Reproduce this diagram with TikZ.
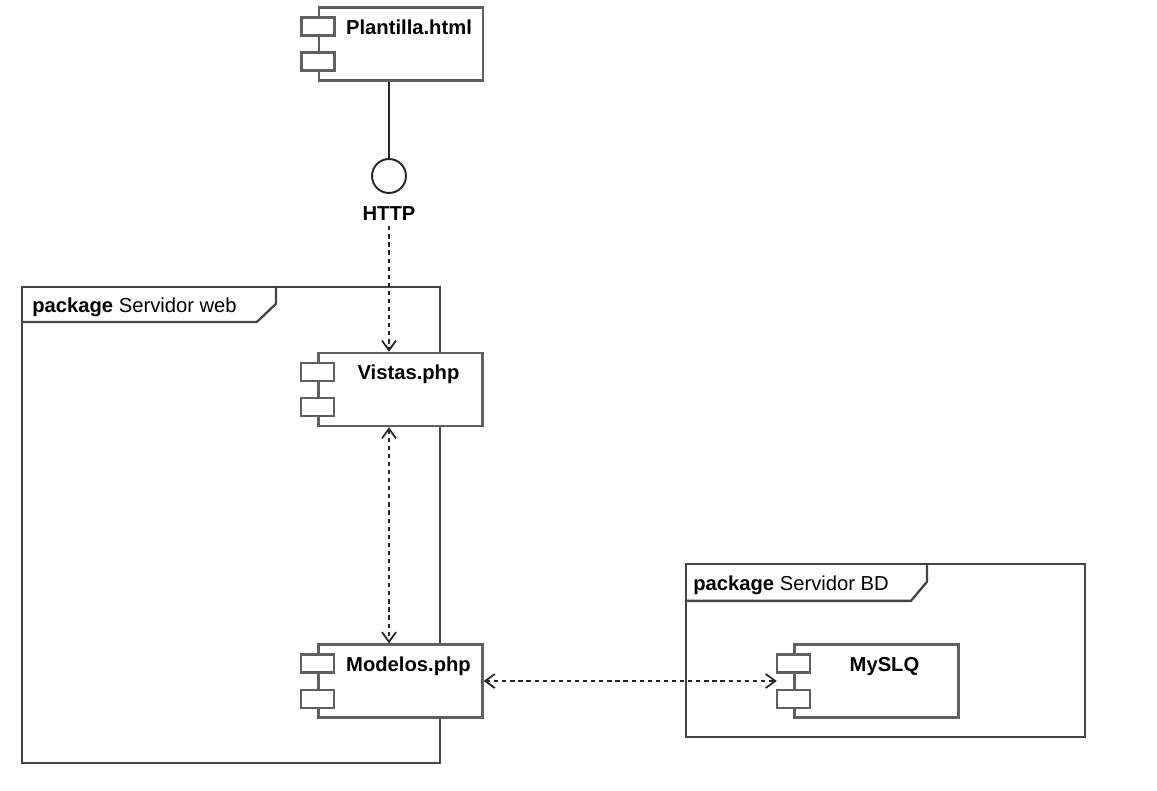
\documentclass[tikz,border=0pt]{standalone}
\usepackage{fontspec}
\setmainfont{Liberation Sans}
\usetikzlibrary{arrows.meta,positioning}

\definecolor{umlgray}{HTML}{606060}
\definecolor{umldark}{HTML}{454545}
\newcommand{\umlfont}{\fontsize{11.5}{14}\selectfont}

\tikzset{
    comp/.style={draw=umlgray, fill=white, line width=1.4pt, inner sep=0pt,
        minimum width=3.28cm, minimum height=1.46cm, label={[compname]north:#1}},
    compname/.style={anchor=base, xshift=0.16cm, yshift=-0.56cm, font=\umlfont\bfseries},
    port/.style={draw=umlgray, fill=white, line width=1.4pt, inner sep=0pt,
        minimum width=0.66cm, minimum height=0.36cm},
    pkg/.style={draw=umldark, line width=1.3pt, inner sep=0pt},
    pkgname/.style={anchor=base west, inner sep=0pt, font=\umlfont},
    conn/.style={draw=black!85, line width=1pt},
    barb/.tip={Straight Barb[length=5.5pt,width=8pt,line width=1pt]},
    dep/.style={conn, dash pattern=on 2.4pt off 2.2pt, -barb},
    dualdep/.style={dep, barb-barb}
}

\begin{document}
\begin{tikzpicture}[x=0.02cm, y=-0.02cm, font=\umlfont]
    \useasboundingbox[fill=white] (0,0) rectangle (1157,791);

    % Packages
    \node[pkg, minimum width=8.36cm, minimum height=9.52cm] (web) at (231,525) {};
    \draw[pkg] (web.north west) ++(0,36) -- ++(236,0) -- ++(19,-18) -- ++(0,-18);
    \node[pkgname] (weblbl) at (32,312) {\textbf{package} Servidor web};

    \node[pkg, minimum width=7.98cm, minimum height=3.46cm] (bd) at (885.5,650.5) {};
    \draw[pkg] (bd.north west) ++(0,38) -- ++(226,0) -- ++(16,-19) -- ++(0,-19);
    \node[pkgname] (bdlbl) at (693,590) {\textbf{package} Servidor BD};

    % Components
    \node[comp=Plantilla.html] (plant) at (401,44) {};
    \node[comp=Vistas.php] (vistas) at (400.5,389.5) {};
    \node[comp=Modelos.php] (modelos) at (400.5,681) {};
    \node[comp=MySLQ] (mysql) at (876.5,681) {};

    % Ports on the left edge
    \foreach \c in {plant,vistas,modelos,mysql} {
        \node[port] (\c-a) at ([yshift=-0.4cm]\c.north west) {};
        \node[port] (\c-b) at ([yshift=0.4cm]\c.south west) {};
    }

    % Provided interface
    \node[draw=black!85, line width=1.1pt, circle, minimum size=0.68cm, inner sep=0pt] (iface) at (389,176) {};
    \node[anchor=base, font=\umlfont\bfseries] (httplbl) at (389,220) {HTTP};
    \draw[conn] (iface.north) -- (iface.north |- plant.south);

    % Dependencies
    \coordinate (mysql-in) at ([xshift=-0.33cm]mysql.west);
    \draw[dep] (httplbl.south) -- (httplbl.south |- vistas.north);
    \draw[dualdep] (vistas.south -| iface) -- (modelos.north -| iface);
    \draw[dualdep] (modelos.east) -- (mysql-in);
\end{tikzpicture}
\end{document}
